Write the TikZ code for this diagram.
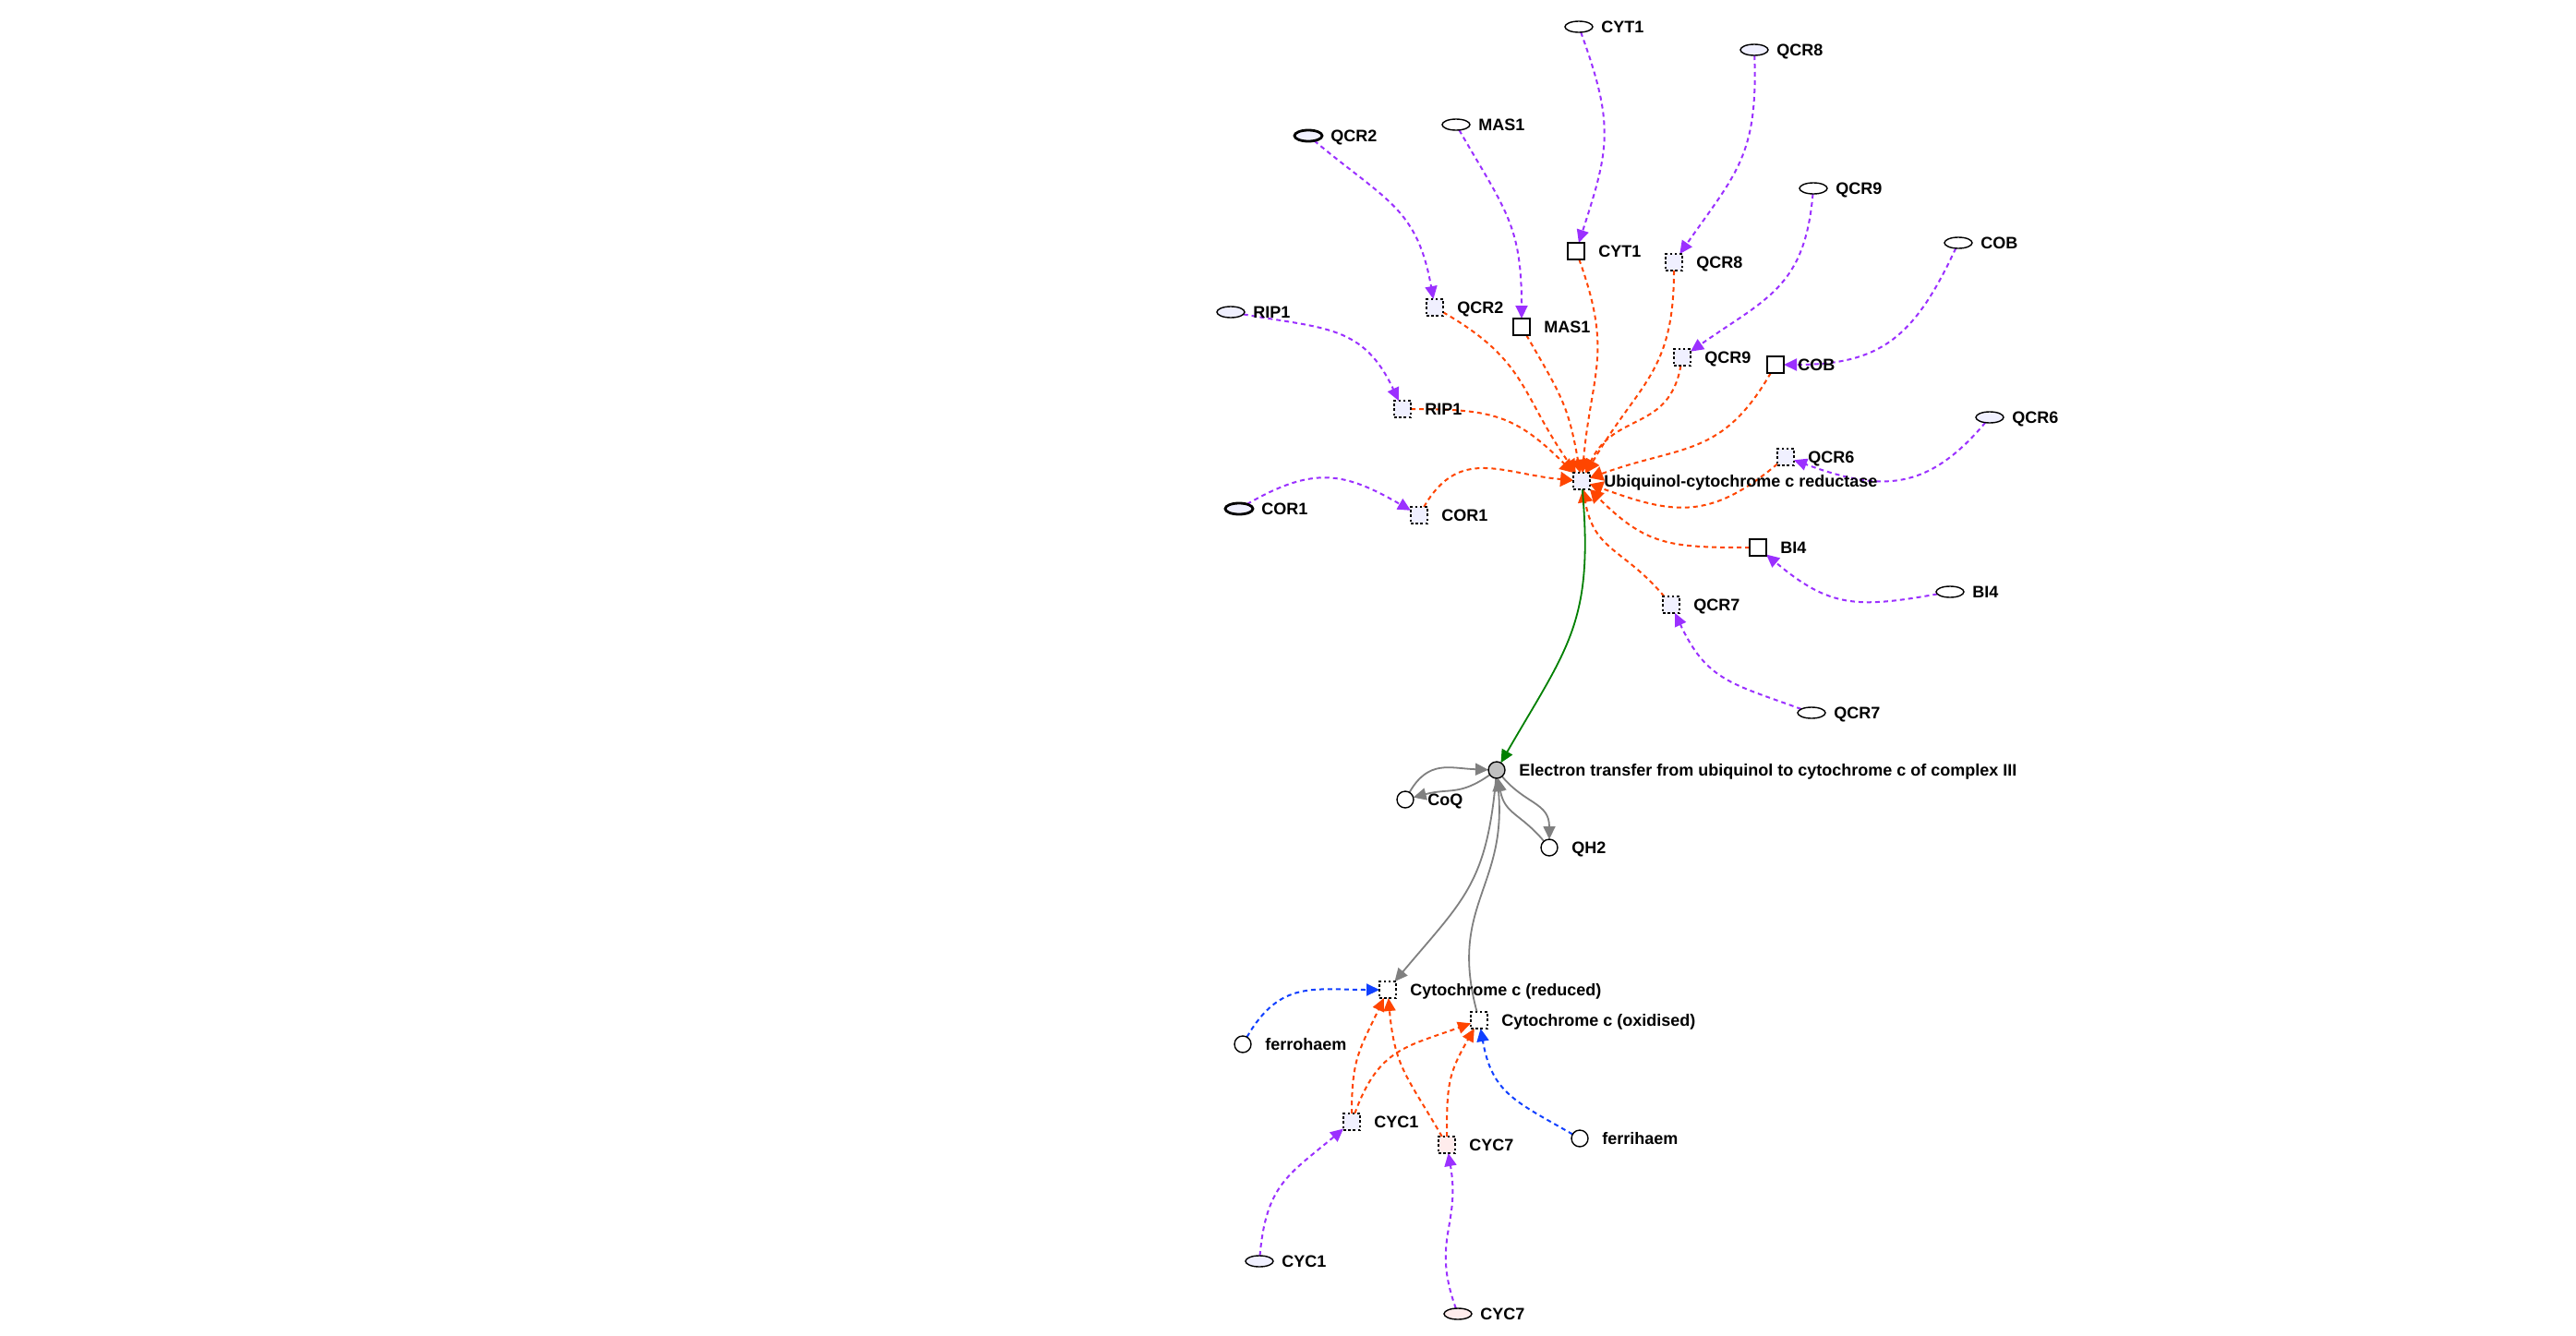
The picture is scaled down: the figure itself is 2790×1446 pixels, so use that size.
\documentclass[tikz,border=0pt]{standalone}
\usepackage{fontspec}
\setmainfont{Liberation Sans}
\usetikzlibrary{shapes.geometric,arrows.meta}
\definecolor{pur}{RGB}{155,48,255}
\definecolor{ored}{RGB}{255,69,0}
\definecolor{blu}{RGB}{16,64,255}
\definecolor{grn}{RGB}{0,128,0}
\definecolor{gry}{RGB}{128,128,128}
\definecolor{lav}{RGB}{240,240,255}
\definecolor{pnk}{RGB}{255,236,236}
\definecolor{rxn}{RGB}{192,192,192}
\pgfdeclarelayer{bg}
\pgfdeclarelayer{edges}
\pgfsetlayers{bg,edges,main}
\begin{document}
\begin{tikzpicture}[x=0.5pt,y=-0.5pt,
  lab/.style={font=\fontsize{9}{10}\selectfont\bfseries, inner sep=0pt, text height=6.5pt, text depth=0pt},
  glab/.style={label={[lab,label distance=4.5pt]0:#1}},
  plab/.style={label={[lab,label distance=7.5pt]0:#1}},
  gene/.style={ellipse, draw, line width=0.7pt, minimum width=15pt, minimum height=6pt, inner sep=0pt, outer sep=0pt, fill=white},
  genel/.style={gene, fill=lav},
  geneb/.style={gene, fill=lav, line width=1.4pt},
  prot/.style={rectangle, draw, minimum size=9pt, inner sep=0pt, outer sep=0pt},
  protsolid/.style={prot, line width=0.7pt, fill=white},
  protdot/.style={prot, line width=0.6pt, dash pattern=on 1.3pt off 1.3pt, fill=lav},
  protdotb/.style={prot, line width=1.1pt, dash pattern=on 1.3pt off 1.3pt, fill=lav},
  chem/.style={circle, draw, line width=0.7pt, minimum size=9pt, inner sep=0pt, outer sep=0pt, fill=white},
  tip/.style={-{Triangle[length=7pt,width=6.5pt]}},
  bigtip/.style={-{Triangle[length=7pt,width=8pt]}},
  pedge/.style={draw=pur, line width=1pt, dash pattern=on 2.5pt off 2pt, tip, looseness=1.2},
  redge/.style={draw=ored, line width=1pt, dash pattern=on 2.5pt off 2pt, tip, looseness=1.2},
  cedge/.style={redge, bigtip},
  bedge/.style={draw=blu, line width=1pt, dash pattern=on 2.5pt off 2pt, tip, looseness=1.2},
  gnedge/.style={draw=grn, line width=0.9pt, tip, looseness=1.2},
  gyedge/.style={draw=gry, line width=0.9pt, tip, looseness=1.2}
]
\useasboundingbox (0,0) rectangle (2790,1446);
\begin{pgfonlayer}{bg}
\fill[white] (0,0) rectangle (2790,1446);
\end{pgfonlayer}

% gene (ellipse) nodes
\node[gene, glab=CYT1]  (e_cyt1) at (1710,29) {};
\node[genel, glab=QCR8] (e_qcr8) at (1900,54) {};
\node[gene, glab=MAS1]  (e_mas1) at (1577,135) {};
\node[geneb, glab=QCR2] (e_qcr2) at (1417,147) {};
\node[gene, glab=QCR9]  (e_qcr9) at (1964,204) {};
\node[gene, glab=COB]   (e_cob)  at (2121,263) {};
\node[genel, glab=RIP1] (e_rip1) at (1333,338) {};
\node[genel, glab=QCR6] (e_qcr6) at (2155,452) {};
\node[geneb, glab=COR1] (e_cor1) at (1342,551) {};
\node[gene, glab=BI4]   (e_bi4)  at (2112,641) {};
\node[gene, glab=QCR7]  (e_qcr7) at (1962,772) {};
\node[genel, glab=CYC1] (e_cyc1) at (1364,1366) {};
\node[gene, fill=pnk, glab=CYC7] (e_cyc7) at (1579,1423) {};

% protein (square) nodes
\node[protsolid, plab=CYT1] (s_cyt1) at (1707,272) {};
\node[protdot, plab=QCR8]   (s_qcr8) at (1813,284) {};
\node[protdotb, plab=QCR2]  (s_qcr2) at (1554,333) {};
\node[protsolid, plab=MAS1] (s_mas1) at (1648,354) {};
\node[protdot, plab=QCR9]   (s_qcr9) at (1822,387) {};
\node[protsolid, line width=0.9pt, plab=COB] (s_cob) at (1923,395) {};
\node[protdot, plab=RIP1]   (s_rip1) at (1519,443) {};
\node[protdot, plab=QCR6]   (s_qcr6) at (1934,495) {};
\node[protdot, plab=Ubiquinol-cytochrome c reductase] (s_ubq) at (1713,521) {};
\node[protdotb, plab=COR1]  (s_cor1) at (1537,558) {};
\node[protsolid, plab=BI4]  (s_bi4)  at (1904,593) {};
\node[protdot, plab=QCR7]   (s_qcr7) at (1810,655) {};
\node[protdot, fill=white, plab=Cytochrome c (reduced)]  (s_cycred) at (1503,1072) {};
\node[protdot, fill=white, plab=Cytochrome c (oxidised)] (s_cycox)  at (1602,1105) {};
\node[protdot, plab=CYC1]   (s_cyc1) at (1464,1215) {};
\node[protdot, fill=pnk, plab=CYC7] (s_cyc7) at (1567,1240) {};

% reaction and small molecules
\node[chem, fill=rxn, plab=Electron transfer from ubiquinol to cytochrome c of complex III] (r_et) at (1621,834) {};
\node[chem, plab=CoQ] (c_coq) at (1522,866) {};
\node[chem, plab=QH2] (c_qh2) at (1678,918) {};
\node[chem, plab=ferrohaem] (c_ferro) at (1346,1131) {};
\node[chem, plab=ferrihaem] (c_ferri) at (1711,1233) {};

\begin{pgfonlayer}{edges}
% genes -> proteins
\draw[pedge] (e_cyt1) to[out=-70,in=72] (s_cyt1);
\draw[pedge] (e_qcr8) to[out=-88,in=55] (s_qcr8);
\draw[pedge] (e_mas1) to[out=-60,in=90] (s_mas1);
\draw[pedge] (e_qcr2) to[out=-40,in=100] (s_qcr2);
\draw[pedge] (e_qcr9) to[out=-95,in=35] (s_qcr9);
\draw[pedge] (e_cob) to[out=-115,in=0] (s_cob);
\draw[pedge] (e_rip1) to[out=-10,in=115] (s_rip1);
\draw[pedge] (e_qcr6) to[out=-130,in=-20] (s_qcr6);
\draw[pedge] (e_cor1) to[out=30,in=150] (s_cor1);
\draw[pedge] (e_bi4) to[out=-170,in=-40] (s_bi4);
\draw[pedge] (e_qcr7) to[out=160,in=-65] (s_qcr7);
\draw[pedge] (e_cyc1) to[out=85,in=-140] (s_cyc1);
\draw[pedge] (e_cyc7) to[out=110,in=-80] (s_cyc7);
% subunits -> complex
\draw[cedge] (s_cyt1) to[out=-70,in=85] (s_ubq);
\draw[cedge] (s_qcr8) to[out=-90,in=60] (s_ubq);
\draw[cedge] (s_qcr2) to[out=-30,in=125] (s_ubq);
\draw[cedge] (s_mas1) to[out=-60,in=100] (s_ubq);
\draw[cedge] (s_qcr9) to[out=-100,in=65] (s_ubq);
\draw[cedge] (s_cob) to[out=-120,in=20] (s_ubq);
\draw[cedge] (s_rip1) to[out=0,in=135] (s_ubq);
\draw[cedge] (s_qcr6) to[out=-140,in=-20] (s_ubq);
\draw[cedge] (s_cor1) to[out=60,in=175] (s_ubq);
\draw[cedge] (s_bi4) to[out=180,in=-45] (s_ubq);
\draw[cedge] (s_qcr7) to[out=130,in=-80] (s_ubq);
% complex -> reaction
\draw[gnedge] (s_ubq) to[out=-85,in=60] (r_et);
% reaction participants
\draw[gyedge] (c_coq) to[out=60,in=178] (r_et);
\draw[gyedge] (r_et) to[out=-145,in=15] (c_coq);
\draw[gyedge] (r_et) to[out=-50,in=90] (c_qh2);
\draw[gyedge] (c_qh2) to[out=130,in=-80] (r_et);
\draw[gyedge] (r_et) to[out=-95,in=50] (s_cycred);
\draw[gyedge] (s_cycox) to[out=105,in=-85] (r_et);
% haem
\draw[bedge] (c_ferro) to[out=60,in=180] (s_cycred);
\draw[bedge] (c_ferri) to[out=150,in=-80] (s_cycox);
% cytochrome c
\draw[redge] (s_cyc1) to[out=90,in=-115] (s_cycred);
\draw[redge] (s_cyc1) to[out=70,in=-160] (s_cycox);
\draw[redge] (s_cyc7) to[out=120,in=-85] (s_cycred);
\draw[redge] (s_cyc7) to[out=90,in=-120] (s_cycox);
\end{pgfonlayer}
\end{tikzpicture}
\end{document}
